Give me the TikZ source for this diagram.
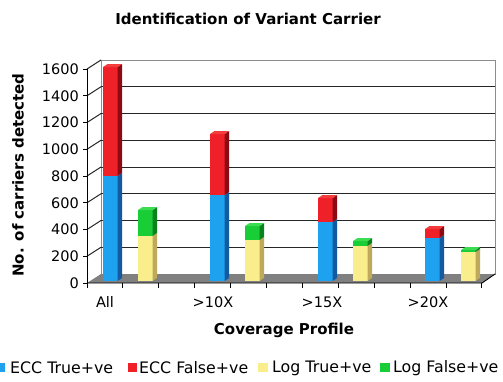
\documentclass[tikz,border=0pt]{standalone}
\usepackage{fontspec}
\setmainfont{DejaVu Sans}
\definecolor{bfront}{RGB}{30,162,240}
\definecolor{bside}{RGB}{20,90,160}
\definecolor{btop}{RGB}{70,180,245}
\definecolor{rfront}{RGB}{240,32,40}
\definecolor{rside}{RGB}{140,10,20}
\definecolor{rtop}{RGB}{245,60,60}
\definecolor{yfront}{RGB}{250,238,140}
\definecolor{yside}{RGB}{190,170,90}
\definecolor{ytop}{RGB}{252,244,170}
\definecolor{gfront}{RGB}{25,205,55}
\definecolor{gside}{RGB}{10,130,30}
\definecolor{gtop}{RGB}{60,220,80}
\definecolor{floorgray}{RGB}{128,128,128}
\newcommand\seg[5]{%
  \fill[#4] (#1,#2) rectangle (#1+14.5,#3);
  \fill[#5] (#1+14.5,#2) -- (#1+19,#2-3) -- (#1+19,#3-3) -- (#1+14.5,#3) -- cycle;}
\newcommand\segtop[3]{%
  \fill[#3] (#1,#2) -- (#1+4.5,#2-3) -- (#1+19,#2-3) -- (#1+14.5,#2) -- cycle;}
\newcommand\barpair[7]{% xblue, blue top, red top, xyellow, yellow top, green top
  \seg{#1}{281}{#2}{bfront}{bside}
  \seg{#1}{#2}{#3}{rfront}{rside}
  \segtop{#1}{#3}{rtop}
  \seg{#4}{281}{#5}{yfront}{yside}
  \seg{#4}{#5}{#6}{gfront}{gside}
  \segtop{#4}{#6}{gtop}}
\tikzset{
  grid/.style={draw=black!85, line width=1pt},
  wall/.style={draw=black!45, line width=0.7pt},
  axis/.style={draw=black, line width=0.9pt},
  ticklab/.style={font=\fontsize{14.5}{16}\selectfont},
  ttl/.style={font=\fontsize{15}{18}\selectfont\bfseries},
  leg/.style={font=\fontsize{15.8}{18}\selectfont, anchor=west, inner sep=0pt}
}
\begin{document}
\begin{tikzpicture}[x=1pt,y=-1pt]
\useasboundingbox (0,0) rectangle (503,381);
\fill[white] (0,0) rectangle (503,381);
% back wall
\draw[wall] (101,60) rectangle (495,274);
% floor
\fill[floorgray] (87,283) -- (482,283) -- (495,274) -- (101,274) -- cycle;
% grid lines
\foreach \k in {1,...,7}{
  \draw[grid] (101,{274-\k*26.75}) -- (495,{274-\k*26.75});
}
\foreach \k in {1,...,8}{
  \draw[grid] (87,{283-\k*26.75}) -- (101,{274-\k*26.75});
}
% y axis
\draw[axis] (87,283) -- (87,{283-8*26.75});
\foreach \k/\v in {0/0,1/200,2/400,3/600,4/800,5/1000,6/1200,7/1400,8/1600}{
  \draw[axis] (83,{283-\k*26.75}) -- (87,{283-\k*26.75});
  \node[ticklab, anchor=east, inner sep=1pt] (yl\k) at (80,{283-\k*26.75}) {\v};
}
% bars
\barpair{103}{176}{67}{138}{236}{210}{}
\barpair{210}{195}{134}{245}{240}{226}{}
\barpair{318}{222}{198}{353}{246}{241}{}
\barpair{425}{238}{229}{461}{252}{250}{}
% x axis
\draw[axis] (87,283) -- (482,283) -- (495,274);
\foreach \i in {0,...,11}{
  \draw[axis] ({87+\i*35.9},283) -- ({87+\i*35.9},288);
}
\node[ticklab] (c1) at (105,302) {All};
\node[ticklab] (c2) at (213,302) {>10X};
\node[ticklab] (c3) at (322,302) {>15X};
\node[ticklab] (c4) at (428,302) {>20X};
% titles
\node[ttl] (title) at (248,19) {Identification of Variant Carrier};
\node[ttl] (xt) at (284,330) {Coverage Profile};
\node[ttl, rotate=90] (yt) at (18,175) {No. of carriers detected};
% legend
\fill[bfront] (-4,363) rectangle (5,372);
\node[leg] (l1) at (10,368) {ECC True+ve};
\fill[rfront] (128,363) rectangle (137,372);
\node[leg] (l2) at (139,368) {ECC False+ve};
\fill[yfront] (258,363) rectangle (268,372);
\node[leg] (l3) at (272,368) {Log True+ve};
\fill[gfront] (380,363) rectangle (390,372);
\node[leg] (l4) at (393,368) {Log False+ve};
\end{tikzpicture}
\end{document}
